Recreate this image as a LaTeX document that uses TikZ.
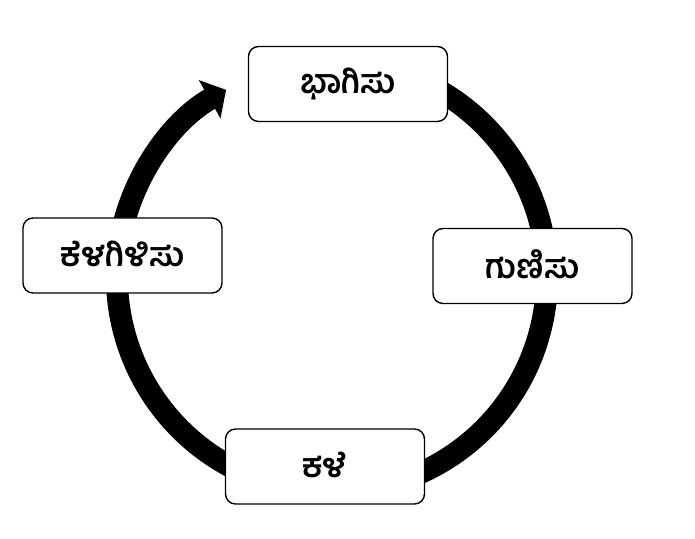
\documentclass[tikz,border=0pt]{standalone}
\usepackage{fontspec}
\newfontfamily\kannada[Script=Kannada]{Hind Mysuru}
\usetikzlibrary{arrows.meta}

\begin{document}
\begin{tikzpicture}
\tikzstyle{stepbox} = [rectangle, rounded corners=0.2cm, minimum width=3.98cm, minimum height=1.5cm, text centered, draw=black, thick, fill=white, font=\kannada\bfseries\fontsize{19}{22}\selectfont]
\tikzstyle{cyclearrow} = [line width=0.44cm, -{Triangle[length=0.38cm,width=0.86cm]}]

\useasboundingbox (0,0) rectangle (13.9,10.78);

\coordinate (c) at (6.64,5.24);

% the cycle, drawn under the boxes
\draw [cyclearrow] ([shift={(75:4.3)}]c) arc[start angle=75, end angle=-240.5, radius=4.3];

\node (divide) [stepbox] at (6.96,9.10) {\raisebox{0.12cm}{ಭಾಗಿಸು}};
\node (multiply) [stepbox] at (10.65,5.46) {\raisebox{0.06cm}{ಗುಣಿಸು}};
\node (subtract) [stepbox] at (6.50,1.45) {\raisebox{0.06cm}{ಕಳೆ}};
\node (bringdown) [stepbox] at (2.45,5.67) {\raisebox{0.06cm}{ಕೆಳಗಿಳಿಸು}};
\end{tikzpicture}
\end{document}
